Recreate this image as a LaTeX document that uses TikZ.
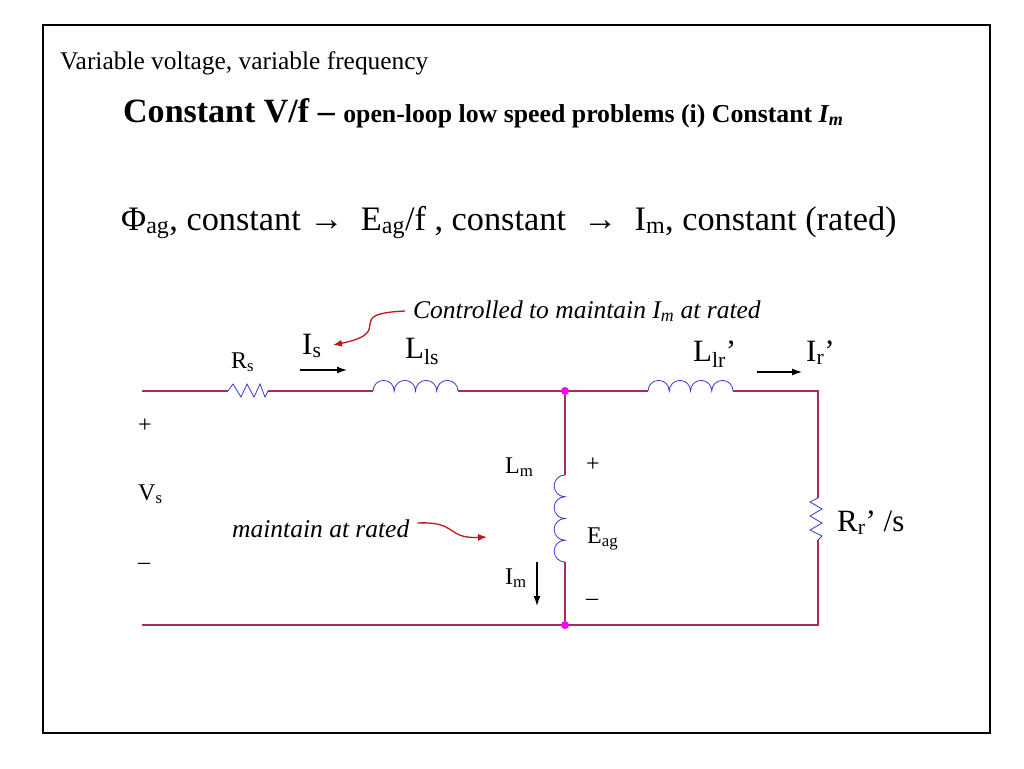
\documentclass[tikz,border=0pt]{standalone}
\usepackage{fontspec}
\setmainfont{Liberation Serif}
\usepackage{tikz}
\usetikzlibrary{arrows.meta}

\definecolor{wire}{RGB}{170,40,90}
\definecolor{part}{RGB}{55,55,215}
\definecolor{dotc}{RGB}{255,0,255}
\definecolor{note}{RGB}{185,25,25}

\tikzset{
	wire/.style={draw=wire, line width=1.15pt},
	part/.style={draw=part, line width=0.8pt},
	cur/.style={-{Latex[length=10pt,width=7pt]}, line width=1.3pt},
	notearrow/.style={-{Latex[length=9pt,width=7pt]}, draw=note, line width=1.3pt},
	small/.style={font=\fontsize{24}{27}\selectfont, inner sep=0pt},
	big/.style={font=\fontsize{31}{34}\selectfont, inner sep=0pt},
	memo/.style={font=\fontsize{25.5}{28}\selectfont\itshape, inner sep=0pt}
}

\begin{document}
\begin{tikzpicture}[x=1pt, y=1pt]
	\useasboundingbox (0,0) rectangle (1024,-768);
	\draw[line width=1.5pt] (43,-25) rectangle (990,-733);

	\node[font=\fontsize{25.4}{28}\selectfont, inner sep=0pt, anchor=base west] (sub) at (60,-69) {Variable voltage, variable frequency};
	\node[inner sep=0pt, anchor=base west] (title) at (123,-122) {\fontsize{34}{37}\selectfont\bfseries Constant V/f – {\fontsize{25.8}{28}\selectfont open-loop low speed problems (i) Constant \textit{I\textsubscript{m}}}};
	\node[inner sep=0pt, anchor=base west] (law) at (121,-230) {\fontsize{34.3}{37}\selectfont Φ\textsubscript{ag}, constant →\ \ E\textsubscript{ag}/f , constant \ →\ \ I\textsubscript{m}, constant (rated)};

	\coordinate (tl) at (142,-391);
	\coordinate (rs1) at (228,-391);
	\coordinate (rs2) at (268,-391);
	\coordinate (ls1) at (373,-391);
	\coordinate (ls2) at (458,-391);
	\coordinate (jt) at (565,-391);
	\coordinate (lr1) at (648,-391);
	\coordinate (lr2) at (733,-391);
	\coordinate (tr) at (818,-391);
	\coordinate (rr1) at (818,-498);
	\coordinate (rr2) at (818,-540);
	\coordinate (br) at (818,-625);
	\coordinate (jb) at (565,-625);
	\coordinate (bl) at (142,-625);
	\coordinate (lm1) at (565,-475);
	\coordinate (lm2) at (565,-562);

	\path[wire] (tl) -- (rs1);
	\path[wire] (rs2) -- (ls1);
	\path[wire] (ls2) -- (jt) -- (lr1);
	\path[wire] (lr2) -- (tr) -- (rr1);
	\path[wire] (rr2) -- (br) -- (jb) -- (bl);
	\path[wire] (jt) -- (lm1);
	\path[wire] (lm2) -- (jb);

	\draw[part] (rs1) -- ++(5,7) -- ++(8,-13) -- ++(6,13) -- ++(7,-13) -- ++(6,13) -- ++(5,-13) -- (rs2);
	\draw[part] (ls1) \foreach \k in {1,...,4} {arc[start angle=180, end angle=0, radius=10.625]};
	\draw[part] (lr1) \foreach \k in {1,...,4} {arc[start angle=180, end angle=0, radius=10.625]};
	\draw[part] (lm1) \foreach \k in {1,...,4} {arc[start angle=90, end angle=270, radius=10.875]};
	\draw[part] (rr1) -- ++(-8,-4) -- ++(12,-7) -- ++(-12,-7) -- ++(12,-7) -- ++(-12,-7) -- ++(12,-6) -- (rr2);

	\fill[dotc] (jt) circle (4);
	\fill[dotc] (jb) circle (4);

	\coordinate (is1) at (300,-370);
	\coordinate (is2) at (347,-370);
	\coordinate (ir1) at (757,-372);
	\coordinate (ir2) at (802,-372);
	\coordinate (im1) at (537,-562);
	\coordinate (im2) at (537,-606);
	\draw[cur] (is1) -- (is2);
	\draw[cur] (ir1) -- (ir2);
	\draw[cur] (im1) -- (im2);

	\node[small, anchor=base west] (Rs) at (231,-368) {R\textsubscript{s}};
	\node[big, anchor=base west] (Is) at (302,-354) {I\textsubscript{s}};
	\node[big, anchor=base west] (Lls) at (405,-358) {L\textsubscript{ls}};
	\node[big, anchor=base west] (Llr) at (693,-361) {L\textsubscript{lr}’};
	\node[big, anchor=base west] (Ir) at (806,-361) {I\textsubscript{r}’};
	\node[big, anchor=base west] (Rr) at (837,-531) {R\textsubscript{r}’ /s};
	\node[small, anchor=base west] (vp) at (138,-432) {+};
	\node[small, anchor=base west] (Vs) at (138,-500) {V\textsubscript{s}};
	\node[small, anchor=base west] (vm) at (138,-569) {–};
	\node[small, anchor=base west] (Lm) at (505,-473) {L\textsubscript{m}};
	\node[small, anchor=base west] (ep) at (586,-471) {+};
	\node[small, anchor=base west] (Eag) at (587,-543) {E\textsubscript{ag}};
	\node[small, anchor=base west] (em) at (586,-605) {–};
	\node[small, anchor=base west] (Im) at (505,-584) {I\textsubscript{m}};

	\node[memo, anchor=base west] (ctl) at (413,-318) {Controlled to maintain I\textsubscript{m} at rated};
	\node[memo, anchor=base west] (keep) at (232,-537) {maintain at rated};
	\draw[notearrow] (ctl.base west) ++(-8,7) .. controls (340,-314) and (398,-332) .. (333,-345);
	\draw[notearrow] (keep.base east) ++(8,14) .. controls (458,-521) and (446,-539) .. (487,-537);
\end{tikzpicture}
\end{document}
